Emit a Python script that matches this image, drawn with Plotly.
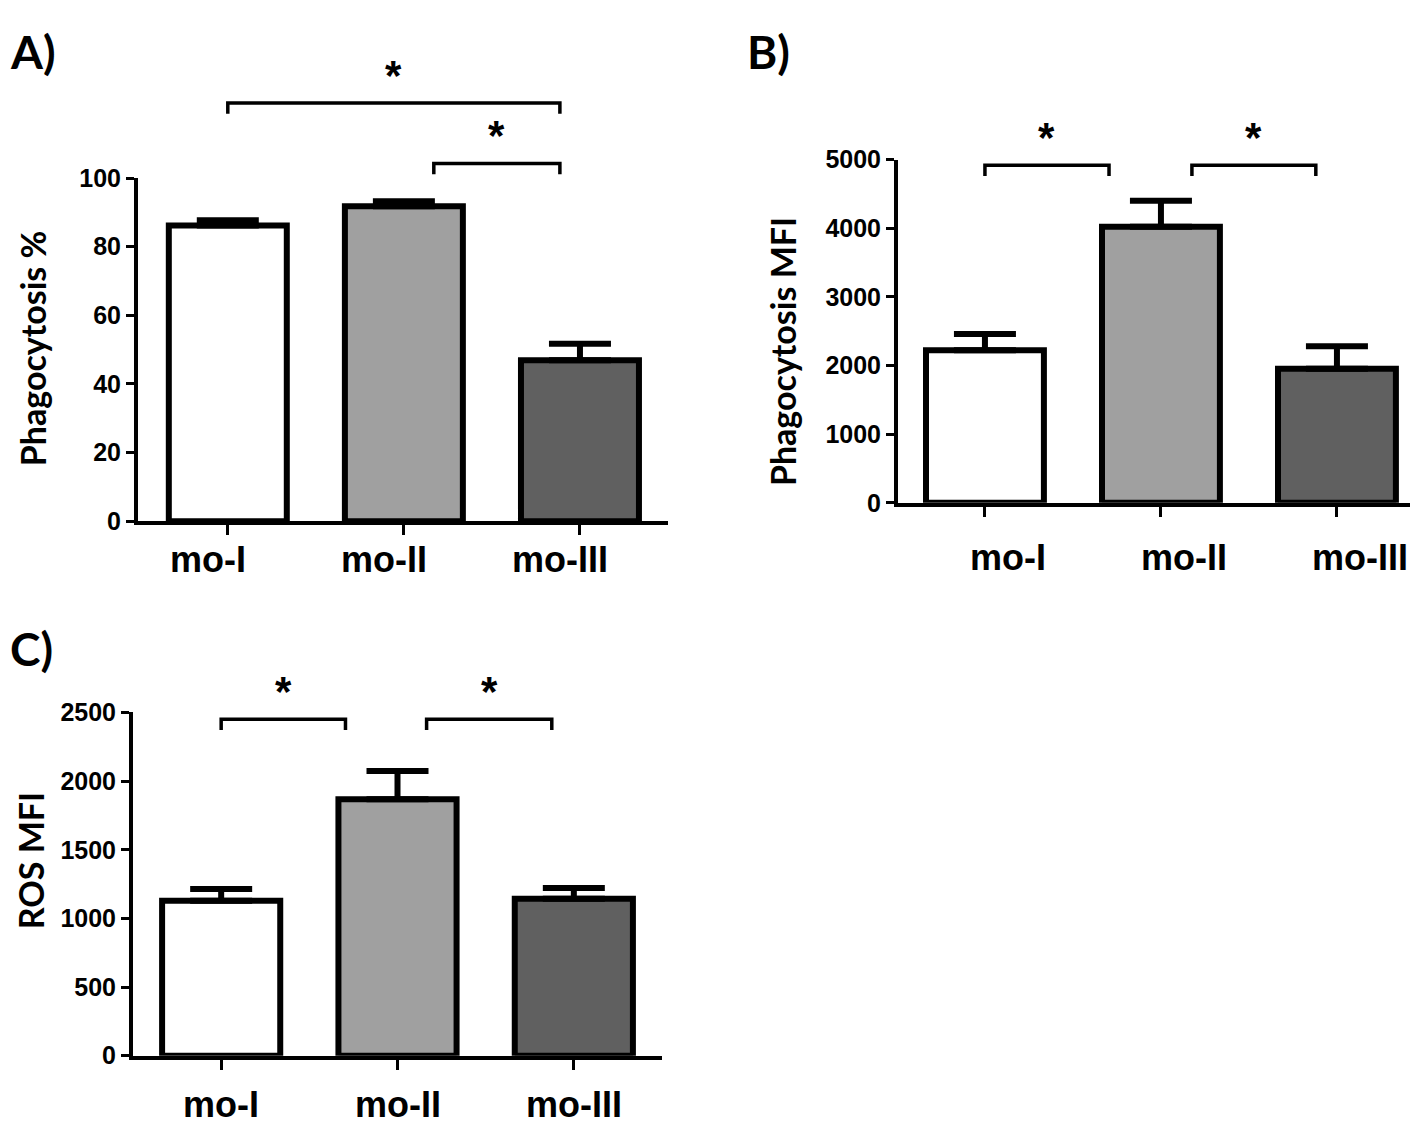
import plotly.graph_objects as go

categories = ["mo-I", "mo-II", "mo-III"]
bar_colors = ["#ffffff", "#a0a0a0", "#606060"]

# Panel A: Phagocytosis %
phago_pct = [86.2, 91.8, 46.9]
phago_pct_err = [1.5, 1.4, 4.8]
ticks_a = [0, 20, 40, 60, 80, 100]

# Panel B: Phagocytosis MFI
phago_mfi = [2222, 4020, 1951]
phago_mfi_err = [235, 380, 330]
ticks_b = [0, 1000, 2000, 3000, 4000, 5000]

# Panel C: ROS MFI
ros_mfi = [1129, 1868, 1143]
ros_mfi_err = [85, 206, 79]
ticks_c = [0, 500, 1000, 1500, 2000, 2500]

W, H = 1418, 1129
def px(xp): return xp / W
def py(yp): return 1 - yp / H

TICKFONT = dict(family="Liberation Sans Narrow, Liberation Sans, Arial", size=25, color="black", weight="bold")
CATFONT = dict(family="Liberation Sans, Arial", size=36, color="black", weight="bold")
TITLEFONT = dict(family="Lato, Liberation Sans", size=34, color="black", weight="bold")

fig = go.Figure()

panels = [
    dict(vals=phago_pct, errs=phago_pct_err, ticks=ticks_a, xa="x", ya="y",
         xdom=[px(130), px(660)], ydom=[py(512), py(160)], xr=[-0.51, 2.5],
         lab_y=551, lab_shift=-20),
    dict(vals=phago_mfi, errs=phago_mfi_err, ticks=ticks_b, xa="x2", ya="y2",
         xdom=[px(890), 1.0], ydom=[py(493), py(141)], xr=[-0.494, 2.506],
         lab_y=549, lab_shift=23),
    dict(vals=ros_mfi, errs=ros_mfi_err, ticks=ticks_c, xa="x3", ya="y3",
         xdom=[px(125), px(654)], ydom=[py(1060), py(708)], xr=[-0.5, 2.5],
         lab_y=1110, lab_shift=0),
]

for i, p in enumerate(panels):
    fig.add_trace(go.Bar(
        x=list(range(len(categories))), y=p["vals"], width=0.67,
        marker=dict(color=bar_colors, line=dict(color="black", width=6)),
        error_y=dict(type="data", symmetric=False, array=p["errs"],
                     arrayminus=[0] * len(p["errs"]), color="black",
                     thickness=6, width=31),
        xaxis=p["xa"], yaxis=p["ya"], showlegend=False,
    ))
    xkey = "xaxis" if i == 0 else f"xaxis{i+1}"
    ykey = "yaxis" if i == 0 else f"yaxis{i+1}"
    fig.layout[xkey] = dict(
        domain=p["xdom"], range=p["xr"], anchor=p["ya"],
        tickmode="array", tickvals=list(range(len(categories))),
        showticklabels=False,
        showline=True, linecolor="black", linewidth=4,
        ticks="outside", ticklen=10, tickwidth=3, tickcolor="black",
        showgrid=False, zeroline=False, fixedrange=True,
    )
    fig.layout[ykey] = dict(
        domain=p["ydom"], range=[p["ticks"][0], p["ticks"][-1]], anchor=p["xa"],
        tickmode="array", tickvals=p["ticks"],
        showline=True, linecolor="black", linewidth=4,
        ticks="outside", ticklen=8, tickwidth=3, tickcolor="black",
        tickfont=TICKFONT, showgrid=False, zeroline=False, fixedrange=True,
    )
    for k, cat in enumerate(categories):
        fig.add_annotation(xref=p["xa"], yref="paper", x=k, y=py(p["lab_y"]),
                           text=cat, showarrow=False, xanchor="center", yanchor="middle",
                           xshift=p["lab_shift"], font=CATFONT)

# significance brackets: (panel xaxis ref, x0 category pos, x1 category pos, y pixel)
brackets = [
    ("x", 0.0, 1.886, 83),
    ("x", 1.17, 1.886, 145),
    ("x2", 0.0, 0.705, 147),
    ("x2", 1.176, 1.88, 147),
    ("x3", 0.0, 0.705, 715),
    ("x3", 1.165, 1.875, 715),
]
for xref, a, b, ypix in brackets:
    fig.add_shape(type="path", xref=xref, yref="paper",
                  path=f"M {a},{py(ypix+11)} L {a},{py(ypix)} L {b},{py(ypix)} L {b},{py(ypix+11)}",
                  line=dict(color="black", width=3.5))
    fig.add_annotation(xref=xref, yref="paper", x=(a + b) / 2, y=py(ypix - 2),
                       text="*", showarrow=False, yanchor="bottom",
                       font=dict(family="Liberation Sans, Arial", size=42, color="black", weight="bold"))

# axis titles (left edge in pixels, vertical centre in pixels)
titles = [("Phagocytosis %", 2, 335), ("Phagocytosis MFI", 752, 338), ("ROS MFI", 0, 860)]
for t, xp, yp in titles:
    fig.add_annotation(xref="paper", yref="paper", x=px(xp), y=py(yp), text=t,
                       textangle=-90, showarrow=False, xanchor="left", yanchor="middle",
                       font=TITLEFONT)

# panel letters (left edge, vertical centre in pixels)
letters = [("A)", 0, 30), ("B)", 737, 30), ("C)", 0, 642)]
for t, xp, yp in letters:
    fig.add_annotation(xref="paper", yref="paper", x=px(xp), y=py(yp), text=t,
                       showarrow=False, xanchor="left", yanchor="middle",
                       font=dict(family="Lato, Liberation Sans", size=46, color="black", weight="bold"))

fig.update_layout(width=W, height=H, margin=dict(l=0, r=0, t=0, b=0),
                  plot_bgcolor="white", paper_bgcolor="white")

fig.write_html("out.html")
